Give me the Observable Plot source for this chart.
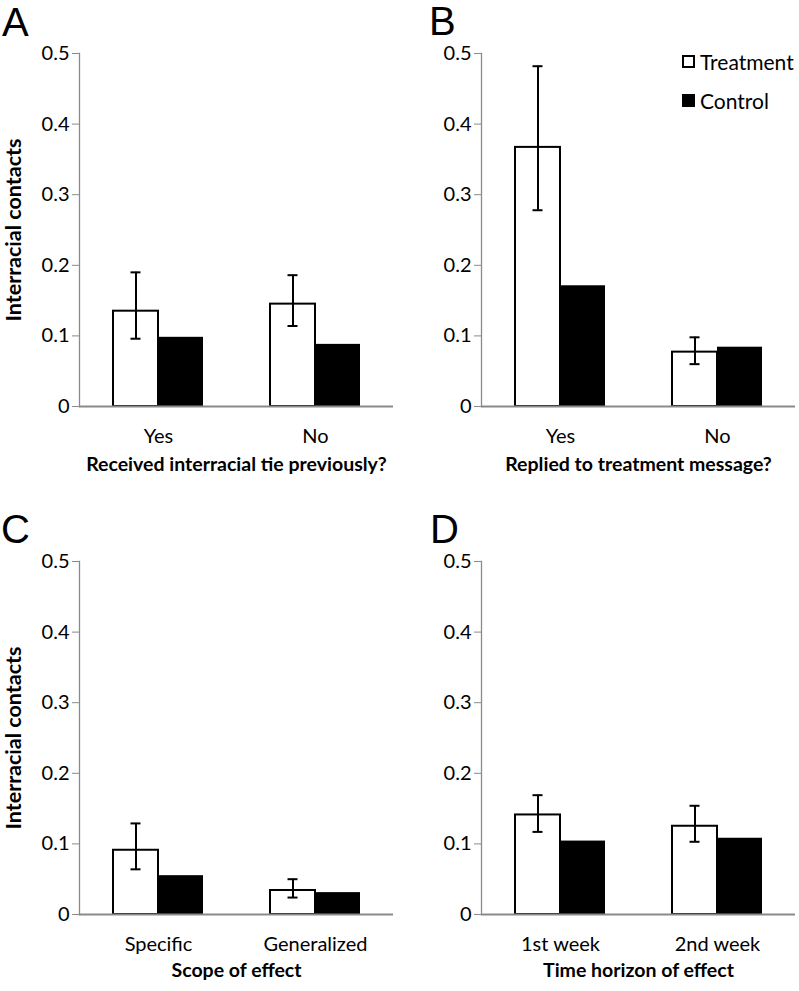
<!DOCTYPE html>
<html>
<head>
<meta charset="utf-8">
<script src="https://cdn.jsdelivr.net/npm/d3@7"></script>
<script src="https://cdn.jsdelivr.net/npm/@observablehq/plot@0.6"></script>
<style>
  html, body { margin: 0; padding: 0; background: #fff; }
  #root { position: relative; width: 799px; height: 991px; font-family: Lato, "Open Sans", sans-serif; }
  .panel { position: absolute; }
  .letter { position: absolute; font-family: "Liberation Sans", Arial, sans-serif; font-size: 40px; line-height: 29px; height: 29px; color: #000; }
  .legend { position: absolute; left: 682px; top: 48px; font-family: Lato, sans-serif; font-size: 21px; color: #000; }
  .legend div { display: flex; align-items: center; height: 26px; margin-bottom: 13px; }
  .sw { width: 9px; height: 9px; border: 2px solid #000; margin-right: 5px; }
</style>
</head>
<body>
<div id="root"></div>
<script>
// ---- data ----
const seriesNames = ["Treatment", "Control"];
const yTicks = [0, 0.1, 0.2, 0.3, 0.4, 0.5];

const catsA = ["Yes", "No"];
const treatA = [0.135, 0.145];
const treatLoA = [0.096, 0.114];
const treatHiA = [0.190, 0.186];
const controlA = [0.098, 0.088];

const catsB = ["Yes", "No"];
const treatB = [0.367, 0.077];
const treatLoB = [0.278, 0.060];
const treatHiB = [0.482, 0.098];
const controlB = [0.171, 0.084];

const catsC = ["Specific", "Generalized"];
const treatC = [0.091, 0.034];
const treatLoC = [0.064, 0.024];
const treatHiC = [0.129, 0.050];
const controlC = [0.055, 0.031];

const catsD = ["1st week", "2nd week"];
const treatD = [0.141, 0.125];
const treatLoD = [0.117, 0.103];
const treatHiD = [0.169, 0.154];
const controlD = [0.104, 0.108];

const panels = [
  {letter: "A", cats: catsA, t: treatA, lo: treatLoA, hi: treatHiA, c: controlA,
   xlabel: "Received interracial tie previously?", ylabel: "Interracial contacts",
   left: 0, top: 0, height: 500, marginLeft: 79, marginRight: 6, lx: 2, ly: 8, dyLabel: 64},
  {letter: "B", cats: catsB, t: treatB, lo: treatLoB, hi: treatHiB, c: controlB,
   xlabel: "Replied to treatment message?", ylabel: null,
   left: 400, top: 0, height: 500, marginLeft: 81, marginRight: 4, lx: 429, ly: 7, dyLabel: 64},
  {letter: "C", cats: catsC, t: treatC, lo: treatLoC, hi: treatHiC, c: controlC,
   xlabel: "Scope of effect", ylabel: "Interracial contacts",
   left: 0, top: 508, height: 483, marginLeft: 79, marginRight: 6, lx: 1, ly: 515, dyLabel: 62},
  {letter: "D", cats: catsD, t: treatD, lo: treatLoD, hi: treatHiD, c: controlD,
   xlabel: "Time horizon of effect", ylabel: null,
   left: 400, top: 508, height: 483, marginLeft: 81, marginRight: 4, lx: 430, ly: 515, dyLabel: 62}
];

const root = document.getElementById("root");
const gray = "#8a8a8a";
const fontTick = 20;

for (const p of panels) {
  const rows = p.cats.map((cat, i) => ({cat, t: p.t[i], lo: p.lo[i], hi: p.hi[i], c: p.c[i]}));
  const chart = Plot.plot({
    width: 399,
    height: p.height,
    marginTop: 53,
    marginBottom: p.height - 406,
    marginLeft: p.marginLeft,
    marginRight: p.marginRight,
    style: {fontFamily: "Lato, 'Open Sans', sans-serif", fontSize: fontTick + "px", color: "#000", background: "#fff", overflow: "visible"},
    x: {type: "band", domain: p.cats, paddingInner: 0.4268, paddingOuter: 0.2134, label: null},
    y: {domain: [0, 0.5], label: null},
    marks: [
      Plot.axisY({ticks: yTicks, tickSize: 7, tickPadding: 3, stroke: gray,
        tickFormat: d => d === 0 ? "0" : d.toFixed(1), label: null, fill: "#000"}),
      Plot.frame({anchor: "left", stroke: gray, strokeWidth: 1.3}),
      Plot.axisX({tickSize: 0, tickPadding: 22, label: null, fill: "#000"}),
      Plot.barY(rows, {x: "cat", y: "t", fill: "#fff", stroke: "#000", strokeWidth: 2, insetRight: 45}),
      Plot.barY(rows, {x: "cat", y: "c", fill: "#000", insetLeft: 45}),
      Plot.ruleY([0], {stroke: gray, strokeWidth: 2}),
      Plot.ruleX(rows, {x: "cat", y1: "lo", y2: "hi", stroke: "#000", strokeWidth: 2, dx: -22.5}),
      Plot.tickY(rows, {x: "cat", y: "hi", stroke: "#000", strokeWidth: 2, insetLeft: 17.5, insetRight: 62.5}),
      Plot.tickY(rows, {x: "cat", y: "lo", stroke: "#000", strokeWidth: 2, insetLeft: 17.5, insetRight: 62.5}),
      Plot.text([p.xlabel], {text: d => d, frameAnchor: "bottom", dy: p.dyLabel,
        fontWeight: "bold", fontSize: 19.5, fill: "#000"}),
      p.ylabel ? Plot.text([p.ylabel], {text: d => d, frameAnchor: "left", rotate: -90, textAnchor: "middle",
        dx: -(p.marginLeft - 14), fontWeight: "bold", fontSize: 21.5, fill: "#000"}) : null
    ]
  });
  const wrap = document.createElement("div");
  wrap.className = "panel";
  wrap.style.left = p.left + "px";
  wrap.style.top = p.top + "px";
  wrap.appendChild(chart);
  root.appendChild(wrap);

  const L = document.createElement("div");
  L.className = "letter";
  L.textContent = p.letter;
  L.style.left = p.lx + "px";
  L.style.top = p.ly + "px";
  root.appendChild(L);
}

// legend
const legend = document.createElement("div");
legend.className = "legend";
seriesNames.forEach((name, i) => {
  const row = document.createElement("div");
  const sw = document.createElement("span");
  sw.className = "sw";
  sw.style.background = i === 0 ? "#fff" : "#000";
  row.appendChild(sw);
  row.appendChild(document.createTextNode(name));
  legend.appendChild(row);
});
root.appendChild(legend);
</script>
</body>
</html>
